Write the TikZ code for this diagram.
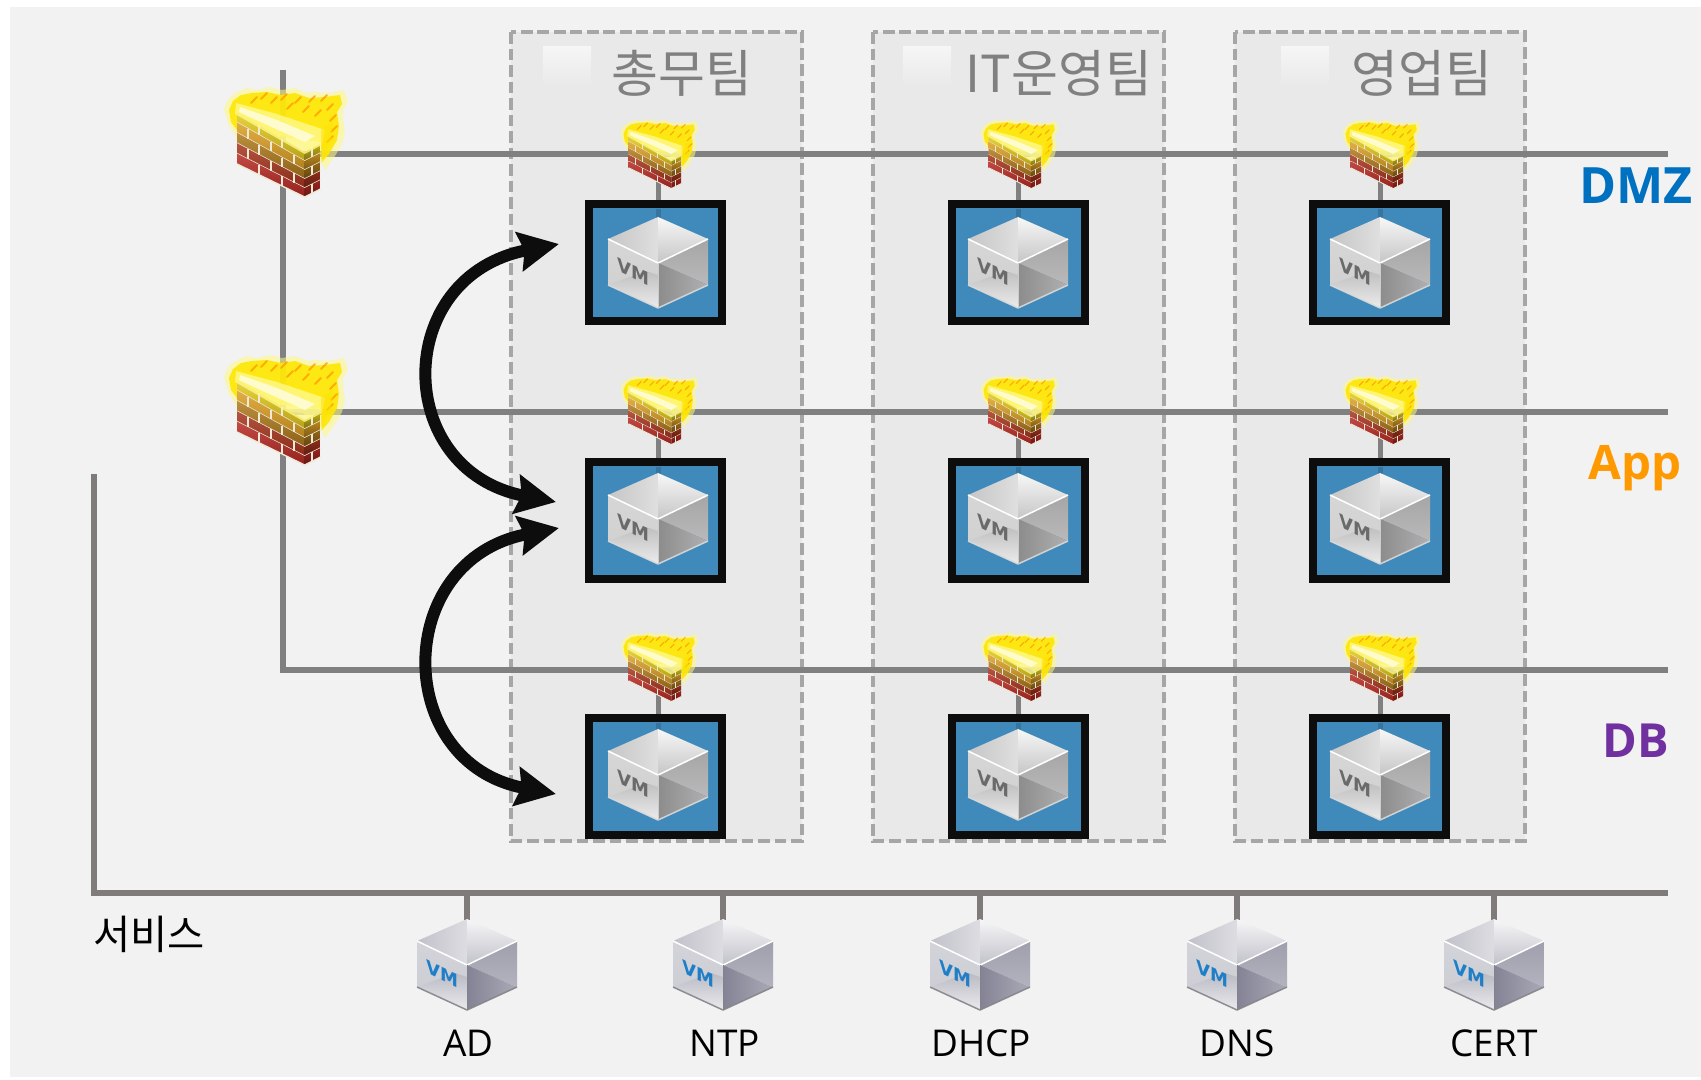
\documentclass[tikz,border=0pt]{standalone}
\usepackage{fontspec}
\setmainfont{Open Sans}
\newfontfamily\krfont{Noto Sans CJK KR}
\newfontfamily\vmfont{DejaVu Sans}
\usetikzlibrary{arrows.meta}
\definecolor{bgc}{HTML}{F2F2F2}
\definecolor{grp}{HTML}{E9E9E9}
\definecolor{dsh}{HTML}{A6A6A6}
\definecolor{netc}{HTML}{808080}
\definecolor{svcc}{HTML}{7F7B7B}
\definecolor{boxblue}{HTML}{3F8ABB}
\definecolor{boxk}{HTML}{0D0D0D}
\definecolor{vmgrey}{HTML}{6A6A6A}
\definecolor{vmblue}{HTML}{1E7FC8}
\definecolor{dmzc}{HTML}{0070C0}
\definecolor{appc}{HTML}{FF9900}
\definecolor{dbc}{HTML}{7030A0}
\definecolor{rowa}{HTML}{E4CC1C}
\definecolor{rowb}{HTML}{DDA024}
\definecolor{rowc}{HTML}{B07A1C}
\definecolor{rowd}{HTML}{A8361E}
\definecolor{rowe}{HTML}{B82A24}
\definecolor{mortar}{HTML}{EFE9D8}
\tikzset{
 x=0.04cm,y=-0.04cm,
 groupbox/.style={draw=dsh,fill=grp,line width=0.18cm,dash pattern=on 0.47cm off 0.19cm},
 netline/.style={draw=netc,line width=0.23cm},
 svcline/.style={draw=svcc,line width=0.23cm},
 stemline/.style={draw=netc,line width=0.2cm},
 svcstem/.style={draw=svcc,line width=0.22cm},
 vmbox/.style={draw=boxk,fill=boxblue,line width=0.32cm,minimum width=5.32cm,minimum height=4.68cm,inner sep=0pt},
 dbl/.style={draw=boxk,line width=0.48cm,line cap=butt,{Stealth[length=1.6cm,width=1.55cm,inset=0.2cm]}-{Stealth[length=1.6cm,width=1.55cm,inset=0.2cm]}},
 grouptitle/.style={text=netc,font=\krfont\fontsize{58pt}{62pt}\selectfont,anchor=base,inner sep=0pt},
 svclabel/.style={text=black,font=\fontsize{42pt}{46pt}\selectfont,anchor=base,inner sep=0pt},
 tier/.style={font=\bfseries\fontsize{#1}{58pt}\selectfont,anchor=base,inner sep=0pt},
 vmtext/.style={font=\vmfont\bfseries\fontsize{20.5pt}{22pt}\selectfont,yslant=-0.5,inner sep=0pt},
 firewall/.pic={
  % flames
  \fill[yellow!50!white,opacity=.55] (-13,-3)--(-9,-13)--(-5,-17)--(2,-21)--(10,-24)--(20,-22)--(33,-25)--(45,-22)--(58,-24)--(70,-19)--(78,-20)--(92,-19)--(107,-22)--(111,-10)--(106,-2)--(106,8)--(108,20)--(105,32)--(98,44)--(88,58)--(84,50)--(66,33)--(0,26)--(-8,14)--cycle;
  \fill[yellow!90!orange,opacity=.9] (-8,-2)--(-4,-11)--(4,-17)--(15,-19)--(30,-20)--(44,-17)--(58,-19)--(72,-14)--(88,-15)--(103,-17)--(105,-8)--(100,0)--(102,14)--(100,28)--(92,42)--(85,50)--(84,30)--(0,18)--(-6,10)--cycle;
  \foreach \a/\b in {14/-9,24/-13,34/-9,44/-12,50/-3,58/-9,66/0,72/-10,78/4,84/-11,90/-2,93/9,94/20,90/30}
   \draw[orange!80!yellow,opacity=.75,line width=#1*1.8pt,line cap=round] (\a,\b)--(\a+6,\b-6);
  % front of the wall
  \foreach \i/\c in {0/rowa,1/rowb,2/rowc,3/rowd,4/rowe}{
   \shade[top color=\c!85!white,bottom color=\c!80!black]
    (0,\i*10.4)--(67.7,40+\i*9)--(67.7,49+\i*9)--(0,10.4+\i*10.4)--cycle;
   \shade[top color=\c!85!black,bottom color=\c!55!black]
    (67.7,40+\i*9)--(83.5,32+\i*9)--(83.5,41+\i*9)--(67.7,49+\i*9)--cycle;
   \draw[mortar,line width=#1*1.3pt] (0,10.4+\i*10.4)--(67.7,49+\i*9)--(83.5,41+\i*9);
  }
  \foreach \i/\o in {0/22,1/11,2/22,3/11,4/22}{
   \foreach \k in {0,23,46}{
    \pgfmathsetmacro\xx{\k+\o}
    \ifdim\xx pt<67pt
     \pgfmathsetmacro\yy{\i*10.4+\xx/67.7*(40-1.4*\i)}
     \pgfmathsetmacro\zz{\yy+10.4-\xx/67.7*1.4}
     \draw[mortar,line width=#1*1.3pt] (\xx,\yy)--(\xx,\zz);
    \fi
   }
  }
  \draw[mortar,line width=#1*1.3pt] (75,36)--(75,45) (75,54)--(75,63) (75,72)--(75,81);
  % glowing top
  \fill[yellow!45!white,opacity=.8] (-2,2)--(-1,-9)--(40,2)--(88,18)--(85,33)--(67.7,42)--cycle;
  \fill[white!85!yellow,opacity=.9] (2,0)--(3,-5)--(40,8)--(78,24)--(67.7,30)--(30,13)--cycle;
  \fill[yellow!85!orange,opacity=.55] (84,18)--(96,10)--(94,28)--(84,48)--cycle;
 },
 vmcube/.pic={
  \shade[left color=#1!45!white,right color=#1!25!white] (0,-46)--(-50,-24)--(0,0)--cycle;
  \shade[top color=#1!6!white,bottom color=#1!45!white] (0,-46)--(50,-24)--(0,0)--cycle;
  \shade[top color=#1!32!white,bottom color=#1!38!white] (-50,-24)--(0,0)--(0,45)--(-50,22)--cycle;
  \shade[top color=#1!50!white,bottom color=#1!15!white] (-50,22)--(-12,8)--(0,12)--(0,45)--cycle;
  \shade[top color=#1!70!white,bottom color=#1!55!white] (0,0)--(50,-24)--(50,22)--cycle;
  \shade[left color=#1!90!white,right color=#1!62!white] (0,0)--(50,22)--(0,45)--cycle;
  \draw[white!70!#1,line width=0.06cm,opacity=.9,line join=round] (-50,22)--(0,45)--(50,22);
  \draw[white,line width=0.06cm,line join=round] (-50,-24)--(0,0)--(50,-24);
  \draw[white!60!#1,line width=0.03cm] (0,0)--(0,45);
 },
}
\begin{document}
\begin{tikzpicture}
\useasboundingbox (0,0) rectangle (1701,1079);
\fill[white] (0,0) rectangle (1701,1079);
\fill[bgc] (10,7) rectangle (1701,1077);
% team groups
\foreach \n/\l/\r/\q in {ga/511/802/543,it/873/1164/903,sa/1235/1525/1281}{
 \draw[groupbox] (\l,32) rectangle (\r,841);
 \shade[top color=white!30!bgc,bottom color=grp] (\q,46) rectangle (\q+48,86);
}
\node[grouptitle] (tga) at (682,92) {총무팀};
\node[grouptitle] (tit) at (1059,92) {IT운영팀};
\node[grouptitle] (tsa) at (1422,92) {영업팀};
% networks
\coordinate (top) at (283,70);
\coordinate (corner) at (283,670);
\coordinate (fwa) at (283,154);
\coordinate (fwb) at (283,412);
\coordinate (endd) at (1668,154);
\coordinate (enda) at (1668,412);
\coordinate (endb) at (1668,670);
\coordinate (svctop) at (94,474);
\coordinate (svccorner) at (94,893);
\coordinate (svcend) at (1668,893);
\draw[netline,line join=miter] (top)--(corner)--(endb);
\draw[netline] (fwa)--(endd);
\draw[netline] (fwb)--(enda);
\draw[svcline,line join=miter] (svctop)--(svccorner)--(svcend);
% VM boxes with firewalls
\foreach \col/\cx/\bx in {1/658/655.5,2/1018/1018.5,3/1380/1379}{
 \foreach \row/\ny/\by/\cy/\fy in {1/154/262.5/263/135,2/412/520.5/519/391,3/670/776.5/775/648}{
  \coordinate (f\col\row) at (\cx,\ny);
  \node[vmbox] (b\col\row) at (\bx,\by) {};
  \draw[stemline] (f\col\row)--(f\col\row |- b\col\row.north);
  \draw[draw=boxblue!85!black,line width=0.2cm] (\cx,\by-54)--(\cx,\cy-40);
  \pic at (\cx,\cy) {vmcube=gray};
  \node[vmtext,text=vmgrey] (v\col\row) at (\cx-25,\cy+9) {VM};
  \pic[scale=0.63] at (\cx-29.4,\fy) {firewall=0.75};
 }
}
% large firewalls
\pic at (237,112) {firewall=1.2};
\pic at (237,380) {firewall=1.2};
% arrows
\coordinate (a1) at (559,244);
\coordinate (a2) at (556,502);
\coordinate (a3) at (559,528);
\coordinate (a4) at (556,794);
\draw[dbl] (a1) .. controls (392,276) and (392,470) .. (a2);
\draw[dbl] (a3) .. controls (392,560) and (392,763) .. (a4);
% tier labels
\node[tier=57pt,text=dmzc] (dmz) at (1636,203) {DMZ};
\node[tier=54pt,text=appc] (app) at (1635,479) {App};
\node[tier=53.5pt,text=dbc] (db) at (1636,757) {DB};
% services
\node[text=black,font=\krfont\fontsize{46pt}{50pt}\selectfont,anchor=base,inner sep=0pt] (svc) at (149,949) {서비스};
\foreach \x/\lx/\t/\m in {467/468.5/AD/ad,723/724.5/NTP/ntp,980/981/DHCP/dhcp,1237/1237/DNS/dns,1494/1494/CERT/cert}{
 \coordinate (s\m) at (\x,893);
 \coordinate (c\m) at (\x,921);
 \draw[svcstem] (s\m)--(c\m);
 \pic at (\x,965) {vmcube=blue!8!gray};
 \node[vmtext,text=vmblue] (v\m) at (\x-25,974) {VM};
 \node[svclabel] (l\m) at (\lx,1056) {\t};
}
\end{tikzpicture}
\end{document}
